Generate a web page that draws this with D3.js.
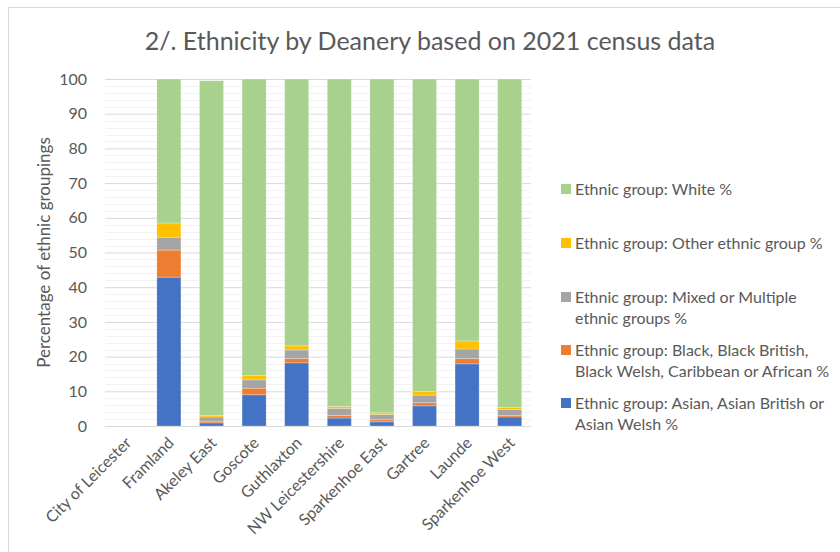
<!DOCTYPE html>
<html>
<head>
<meta charset="utf-8">
<script src="https://cdn.jsdelivr.net/npm/d3@7"></script>
<style>
    body { margin: 0; background: #fff; }
    svg text { font-family: Lato, "Open Sans", sans-serif; fill: #595959; }
</style>
</head>
<body>
<div id="chart"></div>
<script>
var deaneries = ["City of Leicester", "Framland", "Akeley East", "Goscote", "Guthlaxton",
    "NW Leicestershire", "Sparkenhoe East", "Gartree", "Launde", "Sparkenhoe West"];

// percentages (bottom to top of each stack)
var asian = [0, 42.9, 0.9, 9.0, 18.2, 2.3, 1.2, 5.8, 17.9, 2.6];
var black = [0, 7.8, 0.5, 1.9, 1.2, 0.7, 0.6, 0.9, 1.5, 0.4];
var mixed = [0, 3.7, 1.2, 2.4, 2.5, 2.1, 1.5, 2.2, 2.8, 1.8];
var other = [0, 4.1, 0.4, 1.2, 1.2, 0.5, 0.5, 1.0, 2.3, 0.5];
var white = [0, 41.5, 96.5, 85.5, 76.9, 94.4, 96.2, 90.1, 75.5, 94.7];

var seriesNames = ["Ethnic group: Asian, Asian British or Asian Welsh %",
    "Ethnic group: Black, Black British, Black Welsh, Caribbean or African %",
    "Ethnic group: Mixed or Multiple ethnic groups %",
    "Ethnic group: Other ethnic group %",
    "Ethnic group: White %"];
var seriesColors = ["#4472C4", "#ED7D31", "#A5A5A5", "#FFC000", "#A9D18E"];
var legendLines = [
    ["Ethnic group: White %"],
    ["Ethnic group: Other ethnic group %"],
    ["Ethnic group: Mixed or Multiple", "ethnic groups %"],
    ["Ethnic group: Black, Black British,", "Black Welsh, Caribbean or African %"],
    ["Ethnic group: Asian, Asian British or", "Asian Welsh %"]
];
var yTicks = [0, 10, 20, 30, 40, 50, 60, 70, 80, 90, 100];

var width = 840, height = 552;
var margin = { top: 79, left: 105, right: 309, bottom: 126 };
var plotW = width - margin.left - margin.right;
var plotH = height - margin.top - margin.bottom;

var svg = d3.select("#chart").append("svg")
    .attr("width", width)
    .attr("height", height);

// chart frame
svg.append("rect")
    .attr("x", 8.5).attr("y", 7.5)
    .attr("width", 860).attr("height", 580)
    .attr("fill", "none")
    .attr("stroke", "#D9D9D9");

svg.append("text")
    .attr("x", 430)
    .attr("y", 50)
    .attr("text-anchor", "middle")
    .style("font-size", "25px")
    .text("2/. Ethnicity by Deanery based on 2021 census data");

var table = deaneries.map(function(d, i) {
    return { name: d, s0: asian[i], s1: black[i], s2: mixed[i], s3: other[i], s4: white[i] };
});
var stack = d3.stack().keys(["s0", "s1", "s2", "s3", "s4"]);
var stacked = stack(table);

var x = d3.scaleBand().domain(deaneries).range([0, plotW]).paddingInner(0.435).paddingOuter(0.2175);
var y = d3.scaleLinear().domain([0, 100]).range([plotH, 0]);

var g = svg.append("g")
    .attr("transform", "translate(" + margin.left + "," + margin.top + ")");

// minor gridlines every 2
g.append("g").selectAll("line")
    .data(d3.range(2, 100, 2).filter(function(v) { return v % 10 != 0; }))
    .enter().append("line")
    .attr("x1", 0).attr("x2", plotW)
    .attr("y1", function(d) { return Math.round(y(d)) + 0.5; })
    .attr("y2", function(d) { return Math.round(y(d)) + 0.5; })
    .attr("stroke", "#F2F2F2");

var yAxis = d3.axisLeft(y).tickValues(yTicks).tickSize(-plotW).tickPadding(18);
var ya = g.append("g").call(yAxis);
ya.select(".domain").remove();
ya.selectAll(".tick line").attr("stroke", "#D9D9D9");
ya.selectAll(".tick text").style("font-size", "16px").attr("fill", "#595959");

g.selectAll(".series")
    .data(stacked)
    .enter().append("g")
    .attr("fill", function(d, i) { return seriesColors[i]; })
    .selectAll("rect")
    .data(function(d) { return d; })
    .enter().append("rect")
    .attr("x", function(d) { return x(d.data.name); })
    .attr("width", x.bandwidth())
    .attr("y", function(d) { return y(d[1]); })
    .attr("height", function(d) { return y(d[0]) - y(d[1]); })
    .attr("stroke", "#ffffff")
    .attr("stroke-opacity", 0.35)
    .attr("stroke-width", 0.75);

// category labels
var xAxis = d3.axisBottom(x).tickSize(0).tickPadding(0);
var xa = g.append("g").attr("transform", "translate(0," + plotH + ")").call(xAxis);
xa.select(".domain").remove();
xa.selectAll(".tick text")
    .style("font-size", "16px")
    .attr("fill", "#595959")
    .attr("text-anchor", "end")
    .attr("dy", 0)
    .attr("y", 0)
    .attr("transform", "translate(6,18) rotate(-45)");

svg.append("text")
    .attr("transform", "translate(50," + (margin.top + plotH / 2) + ") rotate(-90)")
    .attr("text-anchor", "middle")
    .style("font-size", "17px")
    .text("Percentage of ethnic groupings");

// legend
var legendTop = [189, 243, 297, 350, 403];
var legend = svg.append("g").selectAll("g")
    .data(legendLines)
    .enter().append("g")
    .attr("transform", function(d, i) { return "translate(561," + legendTop[i] + ")"; });
legend.append("rect")
    .attr("x", 0).attr("y", -5)
    .attr("width", 10).attr("height", 10)
    .attr("fill", function(d, i) { return seriesColors[4 - i]; });
legend.each(function(lines) {
    var t = d3.select(this);
    lines.forEach(function(line, k) {
        t.append("text")
            .attr("x", 14)
            .attr("y", k * 21)
            .attr("dy", "0.35em")
            .style("font-size", "16px")
            .text(line);
    });
});
</script>
</body>
</html>
